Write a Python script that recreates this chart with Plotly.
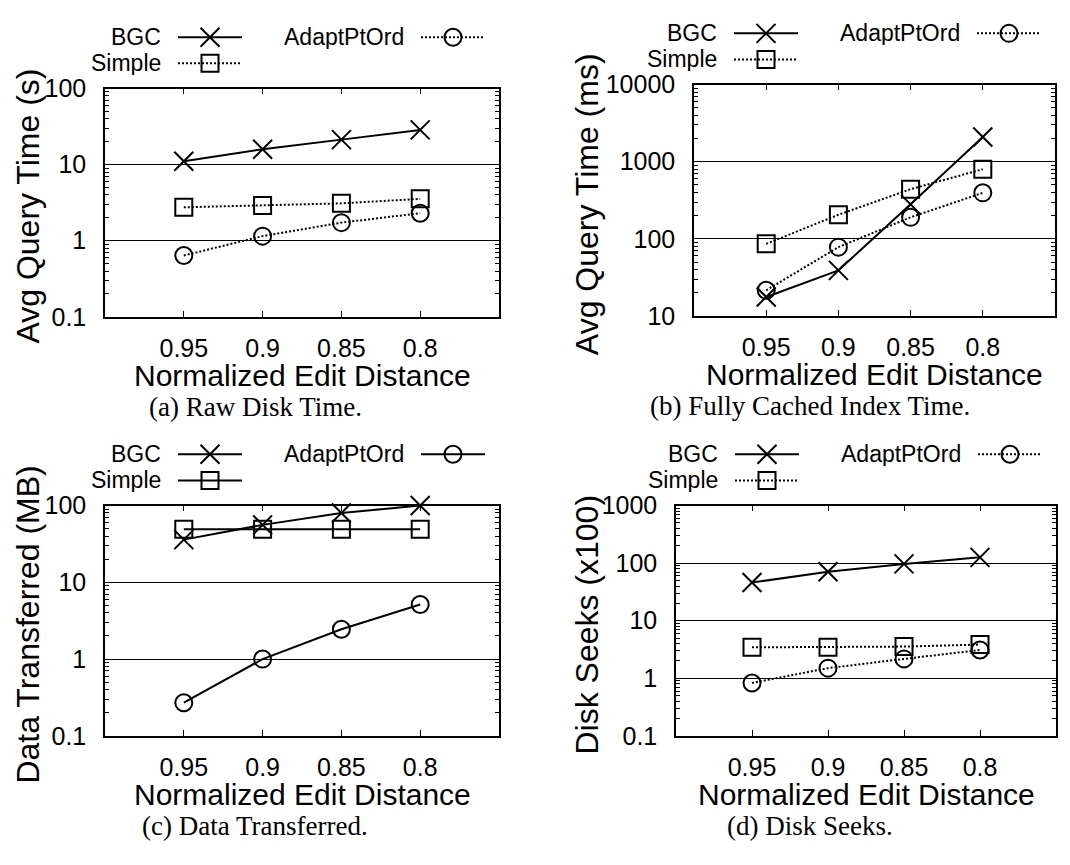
import plotly.graph_objects as go

W, H = 1070, 865

# shared x categories
edit_distance = ["0.95", "0.9", "0.85", "0.8"]
series_names = ["BGC", "Simple", "AdaptPtOrd"]

# (a) raw disk time, seconds
raw_bgc = [11.1, 15.9, 21.3, 28.6]
raw_simple = [2.75, 2.9, 3.1, 3.55]
raw_adapt = [0.64, 1.15, 1.73, 2.3]

# (b) fully cached index time, ms
cached_bgc = [17.6, 39, 280, 2090]
cached_simple = [86, 205, 440, 800]
cached_adapt = [21.5, 78, 190, 395]

# (c) data transferred, MB
xfer_bgc = [36, 56, 80, 100]
xfer_simple = [49, 49, 49, 49]
xfer_adapt = [0.27, 1.0, 2.45, 5.15]

# (d) disk seeks, x100
seeks_bgc = [46, 71, 97, 126]
seeks_simple = [3.45, 3.45, 3.55, 3.85]
seeks_adapt = [0.83, 1.5, 2.17, 3.1]

# decade tick labels per panel
ticks_a = [0.1, 1, 10, 100]
ticks_b = [10, 100, 1000, 10000]
ticks_c = [0.1, 1, 10, 100]
ticks_d = [0.1, 1, 10, 100, 1000]

y_titles = ["Avg Query Time (s)", "Avg Query Time (ms)",
            "Data Transferred (MB)", "Disk Seeks (x100)"]
captions = ["(a) Raw Disk Time.", "(b) Fully Cached Index Time.",
            "(c) Data Transferred.", "(d) Disk Seeks."]
x_title = "Normalized Edit Distance"

SANS = "Liberation Sans, Arial, Helvetica, sans-serif"
SERIF = "Liberation Serif, Times New Roman, serif"
DOT = "2px,2px"

# panel boxes in pixels: left, top, right, bottom ; log10 y range
panels = [
    dict(box=(105, 77, 499, 313), yr=[-1, 2], ticks=ticks_a,
         data=[raw_bgc, raw_simple, raw_adapt], dash=["solid", DOT, DOT]),
    dict(box=(694, 73, 1055, 312), yr=[1, 4], ticks=ticks_b,
         data=[cached_bgc, cached_simple, cached_adapt], dash=["solid", DOT, DOT]),
    dict(box=(105, 508, 499, 746), yr=[-1, 2], ticks=ticks_c,
         data=[xfer_bgc, xfer_simple, xfer_adapt], dash=["solid", "solid", "solid"]),
    dict(box=(676, 508, 1056, 746), yr=[-1, 3], ticks=ticks_d,
         data=[seeks_bgc, seeks_simple, seeks_adapt], dash=["solid", DOT, DOT]),
]
symbols = ["x-thin-open", "square-open", "circle-open"]
sizes = [19, 17, 17]

fig = go.Figure()
annotations = []


def px(x):
    return x / W


def py(y):
    return 1 - y / H


for i, p in enumerate(panels, start=1):
    L, T, R, B = p["box"]
    left_col = L < 500
    xa, ya = f"x{i}", f"y{i}"
    for name, vals, dash, sym, sz in zip(series_names, p["data"], p["dash"], symbols, sizes):
        fig.add_trace(go.Scatter(
            x=edit_distance, y=vals, xaxis=xa, yaxis=ya, name=name,
            mode="lines+markers", showlegend=False, cliponaxis=False,
            line=dict(color="black", width=2, dash=dash),
            marker=dict(symbol=sym, size=sz, color="black",
                        line=dict(color="black", width=2)),
        ))
    fig.layout[f"xaxis{i}"] = dict(
        domain=[px(L), px(R)], anchor=ya, type="category",
        categoryorder="array", categoryarray=edit_distance, range=[-1, 4],
        showline=True, linecolor="black", linewidth=1.5, mirror="allticks",
        ticks="inside", ticklen=6, tickcolor="black", tickwidth=1,
        showgrid=False, zeroline=False, ticklabelstandoff=8,
        tickfont=dict(family=SANS, size=25, color="black"), fixedrange=True,
    )
    fig.layout[f"yaxis{i}"] = dict(
        domain=[py(B), py(T)], anchor=xa, type="log", range=p["yr"],
        tickmode="array", tickvals=p["ticks"], ticktext=[f"{v:g}" for v in p["ticks"]],
        showline=True, linecolor="black", linewidth=1.5, mirror="allticks",
        ticks="inside", ticklen=7, tickcolor="black", tickwidth=1,
        minor=dict(ticks="inside", ticklen=4, tickcolor="black", tickwidth=1,
                   showgrid=False, dtick="D1"),
        showgrid=True, gridcolor="black", gridwidth=1, zeroline=False,
        ticklabelstandoff=12,
        tickfont=dict(family=SANS, size=25, color="black"), fixedrange=True,
    )

    # axis titles and caption
    annotations.append(dict(
        text=y_titles[i - 1], xref="paper", yref="paper",
        x=px(28 if left_col else 587), y=py((T + B) / 2 + 4), textangle=-90,
        xanchor="center", yanchor="middle", showarrow=False,
        font=dict(family=SANS, size=32, color="black")))
    annotations.append(dict(
        text=x_title, xref="paper", yref="paper",
        x=px((L + R) / 2), y=py(B + 61), xanchor="center", yanchor="middle",
        showarrow=False, font=dict(family=SANS, size=30, color="black")))
    annotations.append(dict(
        text=captions[i - 1], xref="paper", yref="paper",
        x=px(255 if left_col else 810), y=py(B + 93), xanchor="center", yanchor="middle",
        showarrow=False, font=dict(family=SERIF, size=27, color="black")))

    # key: text right-aligned, followed by a line sample with its marker
    key_slots = [(R - 337, T - 53), (R - 337, T - 26), (R - 94, T - 53)]
    for k, (name, dash, sym, sz) in enumerate(zip(series_names, p["dash"], symbols, sizes)):
        tx, ty = key_slots[k]
        annotations.append(dict(
            text=name, xref="paper", yref="paper", x=px(tx), y=py(ty),
            xanchor="right", yanchor="middle", showarrow=False, height=24,
            borderpad=0, font=dict(family=SANS, size=23, color="black")))
        fig.add_trace(go.Scatter(
            x=[tx + 16, tx + 48, tx + 80], y=[ty, ty, ty], xaxis="x5", yaxis="y5",
            mode="lines", showlegend=False, hoverinfo="skip",
            line=dict(color="black", width=2, dash=dash)))
        fig.add_trace(go.Scatter(
            x=[tx + 48], y=[ty], xaxis="x5", yaxis="y5",
            mode="markers", showlegend=False, hoverinfo="skip",
            marker=dict(symbol=sym, size=sz, color="black",
                        line=dict(color="black", width=2))))

# full-page pixel frame for the keys
fig.layout["xaxis5"] = dict(domain=[0, 1], anchor="y5", range=[0, W], visible=False, fixedrange=True)
fig.layout["yaxis5"] = dict(domain=[0, 1], anchor="x5", range=[H, 0], visible=False, fixedrange=True)

fig.update_layout(
    width=W, height=H, margin=dict(l=0, r=0, t=0, b=0),
    paper_bgcolor="white", plot_bgcolor="rgba(0,0,0,0)",
    showlegend=False, annotations=annotations,
)

fig.write_html("out.html")
